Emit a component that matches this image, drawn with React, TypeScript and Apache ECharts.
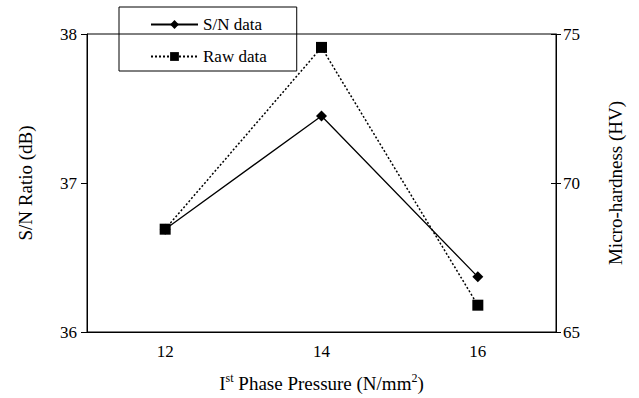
import React, { useEffect, useRef } from "react";
import * as echarts from "echarts";

const pressures = ["12", "14", "16"];
const snData = [36.69, 37.45, 36.37];
const rawData = [68.45, 74.55, 65.9];
const snTicks = { min: 36, max: 38, interval: 1 };
const hvTicks = { min: 65, max: 75, interval: 5 };

const FONT = "Liberation Serif";

export default function App() {
  const ref = useRef<HTMLDivElement>(null);
  useEffect(() => {
    const chart = echarts.init(ref.current!, null, { renderer: "svg" });
    chart.setOption({
      animation: false,
      backgroundColor: "#fff",
      grid: {
        left: 87,
        right: 83,
        top: 34,
        bottom: 66,
        show: true,
        borderColor: "#000",
        borderWidth: 1,
      },
      legend: {
        left: 119,
        top: 7,
        orient: "vertical",
        borderColor: "#000",
        borderWidth: 1,
        padding: [9, 30, 6, 31],
        itemGap: 15,
        itemWidth: 47,
        itemHeight: 11,
        textStyle: { fontFamily: FONT, fontSize: 17, color: "#000" },
        data: ["S/N data", "Raw data"],
      },
      xAxis: {
        type: "category",
        data: pressures,
        boundaryGap: true,
        axisLine: { lineStyle: { color: "#000", width: 1 } },
        axisTick: { show: false },
        axisLabel: { fontFamily: FONT, fontSize: 17, color: "#000", margin: 11 },
        name: "{b|I}{s|st}{b| Phase Pressure (N/mm}{s|2}{b|)}",
        nameLocation: "middle",
        nameGap: 40,
        nameTextStyle: {
          fontFamily: FONT,
          fontSize: 19,
          color: "#000",
          rich: {
            b: { fontFamily: FONT, fontSize: 19, color: "#000", lineHeight: 22 },
            s: { fontFamily: FONT, fontSize: 12, color: "#000", lineHeight: 22, verticalAlign: "top" },
          },
        },
      },
      yAxis: [
        {
          type: "value",
          position: "left",
          min: snTicks.min,
          max: snTicks.max,
          interval: snTicks.interval,
          splitLine: { show: false },
          axisLine: { show: true, lineStyle: { color: "#000", width: 1 } },
          axisTick: { show: true, inside: false, length: 6, lineStyle: { color: "#000" } },
          axisLabel: { fontFamily: FONT, fontSize: 17, color: "#000", margin: 10 },
          name: "S/N Ratio (dB)",
          nameLocation: "middle",
          nameRotate: 90,
          nameGap: 52,
          nameTextStyle: { fontFamily: FONT, fontSize: 19, color: "#000" },
        },
        {
          type: "value",
          position: "right",
          min: hvTicks.min,
          max: hvTicks.max,
          interval: hvTicks.interval,
          splitLine: { show: false },
          axisLine: { show: true, lineStyle: { color: "#000", width: 1 } },
          axisTick: { show: true, inside: false, length: 5, lineStyle: { color: "#000" } },
          axisLabel: { fontFamily: FONT, fontSize: 17, color: "#000", margin: 7 },
          name: "Micro-hardness (HV)",
          nameLocation: "middle",
          nameRotate: 90,
          nameGap: 50,
          nameTextStyle: { fontFamily: FONT, fontSize: 19, color: "#000" },
        },
        {
          type: "value",
          position: "right",
          min: hvTicks.min,
          max: hvTicks.max,
          interval: hvTicks.interval,
          splitLine: { show: false },
          axisLine: { show: false },
          axisTick: { show: true, inside: true, length: 5, lineStyle: { color: "#000" } },
          axisLabel: { show: false },
        },
      ],
      series: [
        {
          name: "S/N data",
          type: "line",
          yAxisIndex: 0,
          data: snData,
          symbol: "diamond",
          symbolSize: 11,
          lineStyle: { color: "#000", width: 1.3, type: "solid" },
          itemStyle: { color: "#000" },
        },
        {
          name: "Raw data",
          type: "line",
          yAxisIndex: 1,
          data: rawData,
          symbol: "rect",
          symbolSize: 11,
          lineStyle: { color: "#000", width: 1.5, type: [2, 2] },
          itemStyle: { color: "#000" },
        },
      ],
    });
    return () => chart.dispose();
  }, []);
  return <div ref={ref} style={{ width: 639, height: 398, position: "absolute", left: 0, top: 0 }} />;
}
